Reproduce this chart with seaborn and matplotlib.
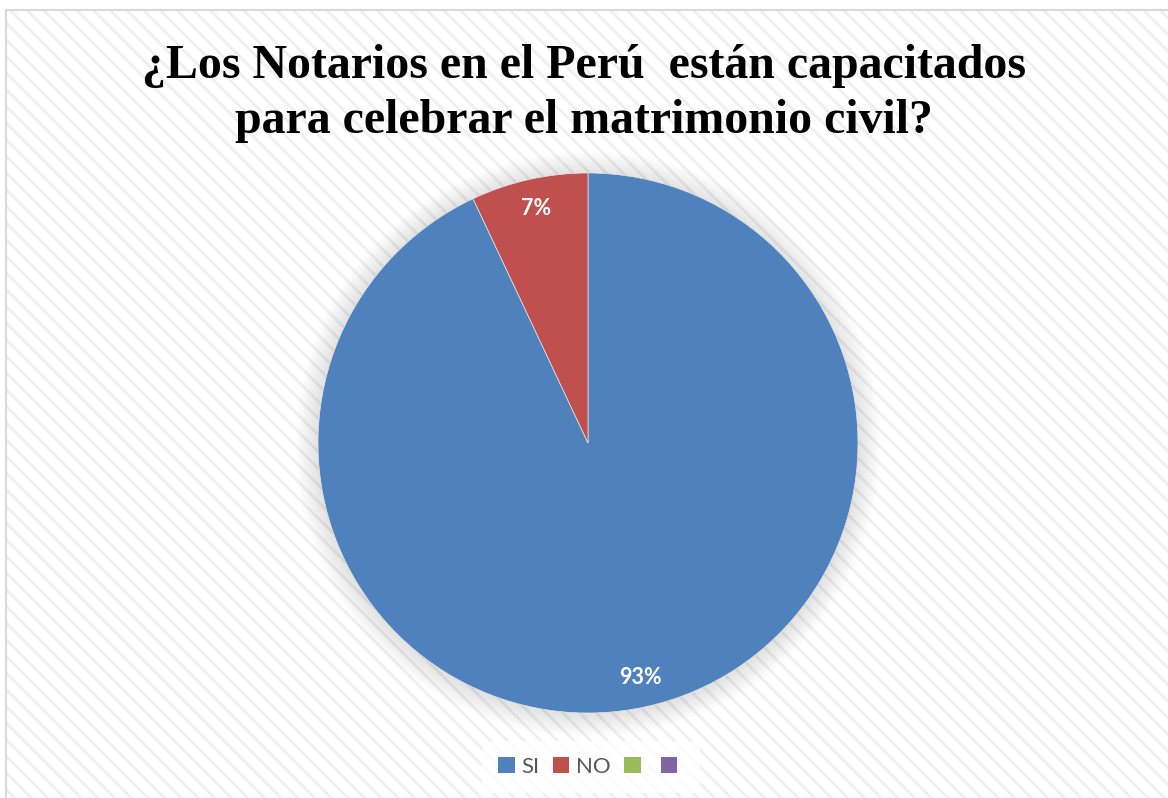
import matplotlib
matplotlib.use("Agg")
import matplotlib.pyplot as plt
from matplotlib.patches import Rectangle, Circle, Patch
import seaborn as sns

# Survey answers
categories = ["SI", "NO", "", ""]
values = [93, 7, 0, 0]
title_lines = ["¿Los Notarios en el Perú  están capacitados",
               "para celebrar el matrimonio civil?"]

sns.set_theme(style="white")
plt.rcParams["hatch.linewidth"] = 2.0
plt.rcParams["hatch.color"] = "#efefef"

colors = ["#4F81BD", "#C0504D", "#9BBB59", "#8064A2"]
palette = sns.color_palette(colors)

fig = plt.figure(figsize=(11.68, 7.98), dpi=100)
fig.patch.set_facecolor("white")

# Striped chart-area background with a thin frame
W, H = 1168, 798
bg = Rectangle((6 / W, 0), 1 - 6 / W, 1 - 10 / H, transform=fig.transFigure,
               facecolor="white", edgecolor="#efefef", hatch="\\\\",
               linewidth=0, zorder=-2)
fig.patches.append(bg)
frame = Rectangle((6 / W, -0.01), 1.1, 1 - 10 / H + 0.01, transform=fig.transFigure,
                  facecolor="none", edgecolor="#d9d9d9", linewidth=1.5, zorder=-1)
fig.patches.append(frame)

fig.text(0.5, (798 - 66) / H, title_lines[0], ha="center", va="center",
         fontsize=34.5, fontweight="bold", family="Liberation Serif", color="black")
fig.text(0.5, (798 - 121) / H, title_lines[1], ha="center", va="center",
         fontsize=34.5, fontweight="bold", family="Liberation Serif", color="black")

# Pie axes: center (588, 443) px, radius 270 px
cx, cy, r = 588, 443, 270
ax = fig.add_axes([(cx - r) / W, (H - cy - r) / H, 2 * r / W, 2 * r / H])
ax.set_zorder(2)
ax.set_xlim(-1, 1)
ax.set_ylim(-1, 1)
ax.set_aspect("equal")
ax.axis("off")
ax.patch.set_alpha(0)

# soft shadow around the pie
for i in range(14):
    ax.add_patch(Circle((0.0, -0.004), 1.0 + 0.006 * (14 - i), facecolor="#000000",
                        alpha=0.009, linewidth=0, zorder=1, clip_on=False))

nz = [(c, v, col) for c, v, col in zip(categories, values, palette) if v > 0]
wedges, texts, autotexts = ax.pie(
    [v for _, v, _ in nz], colors=[col for _, _, col in nz],
    startangle=90, counterclock=False, radius=1.0,
    autopct=lambda p: f"{p:.0f}%", pctdistance=0.89,
    wedgeprops=dict(linewidth=0.5, edgecolor="#e6e6e6"),
    textprops=dict(color="white", fontsize=15.5, fontweight="bold", family="Lato"))
for w in wedges:
    w.set_zorder(3)
for t in autotexts:
    t.set_zorder(4)
ax.set_xlim(-1, 1)
ax.set_ylim(-1, 1)

handles = [Patch(facecolor=col, edgecolor="none") for col in palette]
leg = fig.legend(handles, categories, loc="center", bbox_to_anchor=(591 / W, (H - 767) / H),
                 ncol=4, frameon=True, handlelength=0.75, handleheight=0.75,
                 handletextpad=0.3, columnspacing=0.6, borderpad=0.7,
                 prop=dict(family="Lato", size=16))
leg.set_zorder(3)
leg.get_frame().set_facecolor("white")
leg.get_frame().set_edgecolor("none")
leg.get_frame().set_boxstyle("square", pad=0.0)
for t in leg.get_texts():
    t.set_color("#595959")

fig.savefig("out.png", dpi=100, facecolor="white")
